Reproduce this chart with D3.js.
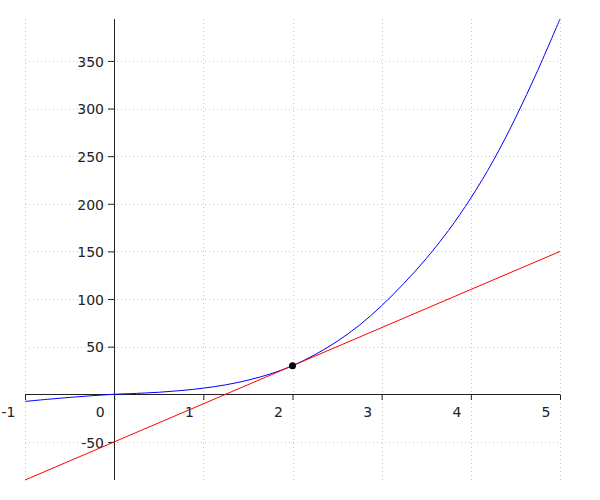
<!DOCTYPE html>
<html>
<head>
<meta charset="utf-8">
<script src="https://cdn.jsdelivr.net/npm/d3@7"></script>
<style>
  html, body { margin: 0; padding: 0; background: #fff; }
  svg { display: block; font-family: "DejaVu Sans", sans-serif; }
</style>
</head>
<body>
<svg id="chart" width="600" height="500"></svg>
<script>
// ---- data ----
const curveX = [-1, -0.75, -0.5, -0.25, 0, 0.25, 0.5, 0.75, 1, 1.25, 1.5, 1.75, 2, 2.25, 2.5, 2.75, 3, 3.25, 3.5, 3.75, 4, 4.25, 4.5, 4.75, 5];
const curveY = [-7.5, -5.3, -3.3, -1.5, 0, 0.9, 2.1, 3.9, 6.4, 9.9, 14.8, 21.3, 30, 41.5, 55.5, 72.5, 93, 116.5, 142.5, 172, 206, 245, 290, 340, 394];
const tangentX = [-1, 5];
const tangentY = [-90, 150];
const pointX = [2];
const pointY = [30];
const xTicks = [-1, 0, 1, 2, 3, 4, 5];
const xTickLabels = ["-1", "0", "1", "2", "3", "4", "5"];
const yTicks = [-50, 50, 100, 150, 200, 250, 300, 350];
const yTickLabels = ["-50", "50", "100", "150", "200", "250", "300", "350"];

// ---- scales ----
const svg = d3.select("#chart");
const x = d3.scaleLinear().domain([-1, 5]).range([25, 560]);
const y = d3.scaleLinear().domain([-90, 394]).range([480, 19]);
const x0 = Math.round(x(0)) + 0.5;
const y0 = Math.round(y(0)) + 0.5;

// ---- grid ----
const grid = svg.append("g").attr("stroke", "#c8c8c8").attr("stroke-dasharray", "1,3").attr("stroke-width", 1);
grid.selectAll("line.v").data(xTicks).join("line")
  .attr("x1", d => Math.round(x(d)) + 0.5).attr("x2", d => Math.round(x(d)) + 0.5)
  .attr("y1", y.range()[1]).attr("y2", y.range()[0]);
grid.selectAll("line.h").data(yTicks).join("line")
  .attr("y1", d => Math.round(y(d)) + 0.5).attr("y2", d => Math.round(y(d)) + 0.5)
  .attr("x1", x.range()[0]).attr("x2", x.range()[1]);

// ---- axes ----
const xAxis = d3.axisBottom(x).tickValues(xTicks).tickSize(6)
  .tickFormat((d, i) => xTickLabels[i]);
const gx = svg.append("g").attr("transform", `translate(0,${y0 - 0.5})`).call(xAxis);
gx.select(".domain").attr("d", `M${x.range()[0]},0.5H${x.range()[1]}`).attr("stroke", "#222");
gx.selectAll(".tick line").attr("stroke", "#222").attr("y1", 0.5);
gx.selectAll(".tick text")
  .attr("text-anchor", "end").attr("x", -10).attr("y", 13)
  .attr("fill", "#222").style("font-size", "14px").style("font-family", "DejaVu Sans, sans-serif");

const yAxis = d3.axisLeft(y).tickValues(yTicks).tickSize(6)
  .tickFormat((d, i) => yTickLabels[i]);
const gy = svg.append("g").attr("transform", `translate(${x0 - 0.5},0)`).call(yAxis);
gy.select(".domain").attr("d", `M0.5,${y.range()[1]}V${y.range()[0]}`).attr("stroke", "#222");
gy.selectAll(".tick line").attr("stroke", "#222").attr("x1", 0.5);
gy.selectAll(".tick text")
  .attr("x", -10).attr("dy", "0.38em")
  .attr("fill", "#222").style("font-size", "14px").style("font-family", "DejaVu Sans, sans-serif");

// ---- curves ----
const line = d3.line().x(d => x(d[0])).y(d => y(d[1])).curve(d3.curveCatmullRom);
svg.append("path")
  .datum(curveX.map((v, i) => [v, curveY[i]]))
  .attr("d", line).attr("fill", "none").attr("stroke", "#0000ff").attr("stroke-width", 1);

svg.append("path")
  .datum(tangentX.map((v, i) => [v, tangentY[i]]))
  .attr("d", d3.line().x(d => x(d[0])).y(d => y(d[1])))
  .attr("fill", "none").attr("stroke", "#ff0000").attr("stroke-width", 1);

svg.selectAll("circle.pt").data(pointX.map((v, i) => [v, pointY[i]])).join("circle")
  .attr("cx", d => x(d[0])).attr("cy", d => y(d[1])).attr("r", 3.5).attr("fill", "#000");
</script>
</body>
</html>
